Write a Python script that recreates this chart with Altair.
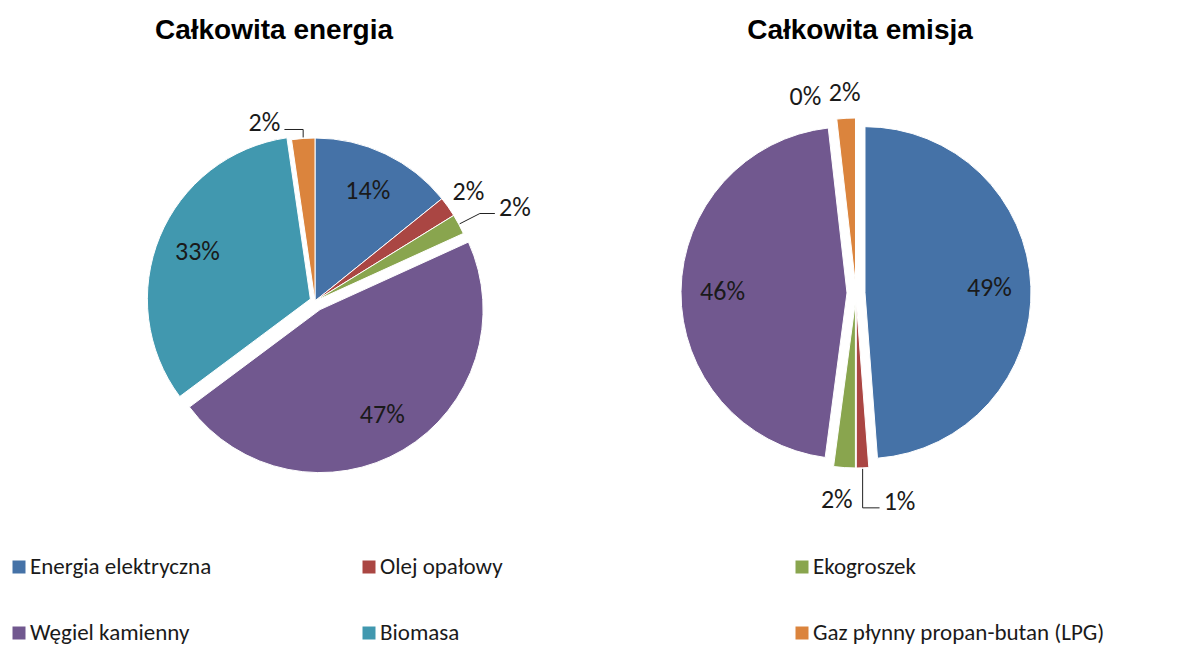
import math
import altair as alt
import pandas as pd

# ---------------- data ----------------
categories = ["Energia elektryczna", "Olej opałowy", "Ekogroszek",
              "Węgiel kamienny", "Biomasa", "Gaz płynny propan-butan (LPG)"]
energia_values = [14.2, 2.0, 2.0, 46.6, 32.9, 2.3]
emisja_values = [48.8, 1.2, 2.1, 46.1, 0.0, 1.8]
chart_keys = ["energia", "emisja"]
chart_titles = ["Całkowita energia", "Całkowita emisja"]
colors = ["#4572A7", "#AA4643", "#89A54E", "#71588F", "#4198AF", "#DB843D"]

# ---------------- layout / style ----------------
centers = {"energia": (307, 293), "emisja": (848, 285)}
radii = {"energia": 163, "emisja": 166}
explode = {
    "energia": {"Węgiel kamienny": 10, "Biomasa": 5},
    "emisja": {c: 9 for c in categories},
}
title_x = {"energia": 266, "emisja": 852}
title_y = 31
# label nudges (px) and leader kind (1 = elbow, 2 = diagonal)
nudges = {
    "energia|Ekogroszek": (34, -5, 2),
    "energia|Gaz płynny propan-butan (LPG)": (-37, 10, 1),
    "emisja|Biomasa": (-28, 3, 0),
    "emisja|Ekogroszek": (-6, 7, 0),
    "emisja|Olej opałowy": (36, 9, 1),
}
legend_col_x = [11, 361, 794]
legend_row_y = [559, 625]
FONT = "Carlito, Lato, sans-serif"

# ---------------- tables ----------------
rows = []
for key, vals in zip(chart_keys, [energia_values, emisja_values]):
    for i, (c, v) in enumerate(zip(categories, vals)):
        rows.append({"chart": key, "category": c, "value": v, "order": i})
df = pd.DataFrame(rows)
titles_df = pd.DataFrame({"chart": chart_keys, "title": chart_titles})
legend_df = pd.DataFrame({"category": categories, "idx": list(range(len(categories)))})


def chart_expr(d):
    e = "0"
    for k, v in d.items():
        e = f"datum.chart == '{k}' ? {v} : ({e})"
    return e


def key_expr(d, pos, default="0"):
    e = default
    for k, v in d.items():
        e = f"datum.key == '{k}' ? {v[pos]} : ({e})"
    return e


explode_map = {f"{ch}|{c}": (v,) for ch, m in explode.items() for c, v in m.items()}

color_scale = alt.Scale(domain=categories, range=colors)

base = alt.Chart(df).transform_joinaggregate(
    total="sum(value)", groupby=["chart"]
).transform_window(
    cum="sum(value)", groupby=["chart"], sort=[alt.SortField("order")], frame=[None, 0]
).transform_calculate(
    key="datum.chart + '|' + datum.category",
    f0="(datum.cum - datum.value) / datum.total",
    f1="datum.cum / datum.total",
).transform_calculate(
    mid="PI * (datum.f0 + datum.f1)",
    ex=key_expr(explode_map, 0),
    R=chart_expr(radii),
    ccx=chart_expr({k: v[0] for k, v in centers.items()}),
    ccy=chart_expr({k: v[1] for k, v in centers.items()}),
).transform_calculate(
    cx="datum.ccx + datum.ex * sin(datum.mid)",
    cy="datum.ccy - datum.ex * cos(datum.mid)",
    label="format(round(datum.value), 'd') + '%'",
    inside="datum.value >= 5 ? 1 : 0",
    ndx=key_expr(nudges, 0),
    ndy=key_expr(nudges, 1),
    kind=key_expr(nudges, 2),
).transform_calculate(
    lr="datum.inside == 1 ? 0.75 * datum.R : datum.R + 25",
).transform_calculate(
    lx="datum.cx + datum.lr * sin(datum.mid) + datum.ndx",
    ly="datum.cy - datum.lr * cos(datum.mid) + datum.ndy",
    ax="datum.cx + (datum.R + 1) * sin(datum.mid)",
    ay="datum.cy - (datum.R + 1) * cos(datum.mid)",
).transform_calculate(
    side="datum.lx >= datum.ax ? 1 : -1",
    halfw="length(datum.label) * 8.5",
).transform_calculate(
    hx="datum.lx - datum.side * (datum.halfw + 3)",
    hy="datum.ly + 6",
).transform_calculate(
    kx="datum.kind == 1 ? datum.ax : datum.hx - datum.side * 15",
)

arcs = base.mark_arc(stroke="white", strokeWidth=1).encode(
    theta=alt.Theta("f0:Q", scale=alt.Scale(domain=[0, 1], range=[0, 2 * math.pi])),
    theta2="f1:Q",
    radius=alt.Radius("R:Q", scale=None),
    x=alt.X("cx:Q", scale=None, axis=None),
    y=alt.Y("cy:Q", scale=None, axis=None),
    color=alt.Color("category:N", scale=color_scale, legend=None),
    order=alt.Order("order:Q"),
)

labels = base.mark_text(font=FONT, fontSize=26, align="center", baseline="middle",
                        color="#1a1a1a").encode(
    x=alt.X("lx:Q", scale=None, axis=None),
    y=alt.Y("ly:Q", scale=None, axis=None),
    text="label:N",
)

lead1 = base.transform_filter("datum.kind > 0").mark_rule(color="#222222", strokeWidth=1).encode(
    x=alt.X("ax:Q", scale=None, axis=None),
    y=alt.Y("ay:Q", scale=None, axis=None),
    x2="kx:Q",
    y2="hy:Q",
)
lead2 = base.transform_filter("datum.kind > 0").mark_rule(color="#222222", strokeWidth=1).encode(
    x=alt.X("kx:Q", scale=None, axis=None),
    y=alt.Y("hy:Q", scale=None, axis=None),
    x2="hx:Q",
    y2="hy:Q",
)

titles = alt.Chart(titles_df).transform_calculate(
    tx=chart_expr(title_x), ty=str(title_y)
).mark_text(font="Liberation Sans", fontWeight="bold", fontSize=28,
            align="center", baseline="alphabetic", color="black").encode(
    x=alt.X("tx:Q", scale=None, axis=None),
    y=alt.Y("ty:Q", scale=None, axis=None),
    text="title:N",
)

col_expr = "datum.idx % 3"
row_expr = "floor(datum.idx / 3)"
leg_base = alt.Chart(legend_df).transform_calculate(
    col=col_expr, row=row_expr
).transform_calculate(
    sx=f"[{','.join(map(str, legend_col_x))}][datum.col]",
    sy=f"[{','.join(map(str, legend_row_y))}][datum.row]",
).transform_calculate(tx="datum.sx + 11")

leg_sym = leg_base.mark_square(size=169, opacity=1).encode(
    x=alt.X("sx:Q", scale=None, axis=None),
    y=alt.Y("sy:Q", scale=None, axis=None),
    color=alt.Color("category:N", scale=color_scale, legend=None),
)
leg_txt = leg_base.mark_text(font=FONT, fontSize=23, align="left", baseline="middle",
                             color="#1a1a1a").encode(
    x=alt.X("tx:Q", scale=None, axis=None),
    y=alt.Y("sy:Q", scale=None, axis=None),
    text="category:N",
)

chart = alt.layer(arcs, lead1, lead2, labels, titles, leg_sym, leg_txt).properties(
    width=1172, height=638, padding=0, autosize="none"
).configure_view(stroke=None)

chart.save("out.html", embed_options={"renderer": "svg", "actions": False})
